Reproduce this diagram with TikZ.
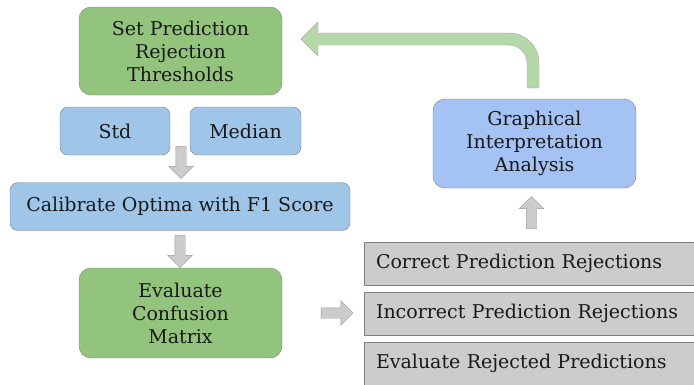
\documentclass[tikz,border=0pt]{standalone}
\usepackage{fontspec}
\setmainfont{DejaVu Serif}
\usetikzlibrary{shapes.arrows}
\definecolor{boxgreen}{HTML}{93C47D}
\definecolor{boxblue}{HTML}{9FC5E8}
\definecolor{boxcorn}{HTML}{A4C2F4}
\definecolor{boxgray}{HTML}{CCCCCC}
\definecolor{arrowgreen}{HTML}{B6D7A8}
\definecolor{edgegray}{HTML}{7F7F7F}

\begin{document}
\begin{tikzpicture}[x=1pt,y=-1pt, every node/.style={font=\fontsize{19}{23}\selectfont, text=black!90},
    stage/.style={draw=edgegray, rounded corners=12pt, align=center, inner sep=0pt},
    band/.style={draw=edgegray, fill=boxgray, minimum width=336pt, minimum height=43pt, text width=312pt, align=left, inner xsep=12pt},
    fatarrow/.style={single arrow, draw=edgegray!80, fill=boxgray, minimum height=32pt, single arrow head extend=7pt, inner sep=5pt}]
    \useasboundingbox (0,0) rectangle (694,384);
    \node[stage, fill=boxgreen, minimum width=203pt, minimum height=88pt] (thresh) at (180.5,51) {Set Prediction\\Rejection\\Thresholds};
    \node[stage, fill=boxblue, minimum width=110pt, minimum height=48pt, rounded corners=8pt] (std) at (115,131) {Std};
    \node[stage, fill=boxblue, minimum width=111pt, minimum height=48pt, rounded corners=8pt] (median) at (245.5,131) {Median};
    \node[stage, fill=boxblue, minimum width=340pt, minimum height=48pt, rounded corners=8pt] (calib) at (180,206.5) {Calibrate Optima with F1 Score};
    \node[stage, fill=boxgreen, minimum width=203pt, minimum height=90pt] (confusion) at (180.5,313) {Evaluate\\Confusion\\Matrix};
    \node[stage, fill=boxcorn, minimum width=203pt, minimum height=89pt] (graph) at (534.5,143.5) {Graphical\\Interpretation\\Analysis};
    \node[band] (correct) at (532,263.5) {Correct Prediction Rejections};
    \node[band] (incorrect) at (532,313.5) {Incorrect Prediction Rejections};
    \node[band] (evalrej) at (532,363.5) {Evaluate Rejected Predictions};
    % block arrows between stages
    \node[fatarrow, shape border rotate=270] (a1) at (181,160) {};
    \node[fatarrow, shape border rotate=270] (a2) at (180,249) {};
    \node[fatarrow] (a3) at (334.5,313) {};
    \node[fatarrow, shape border rotate=90] (a4) at (531.5,215) {};
    % feedback arrow back to the thresholds
    \draw[draw=edgegray!70, fill=arrowgreen] (527,88) -- (527,63) arc(0:-90:18) -- (318,45) -- (318,56)
        -- (301,39) -- (318,22) -- (318,33) -- (509,33) arc(-90:0:30) -- (539,88) -- cycle;
\end{tikzpicture}
\end{document}
